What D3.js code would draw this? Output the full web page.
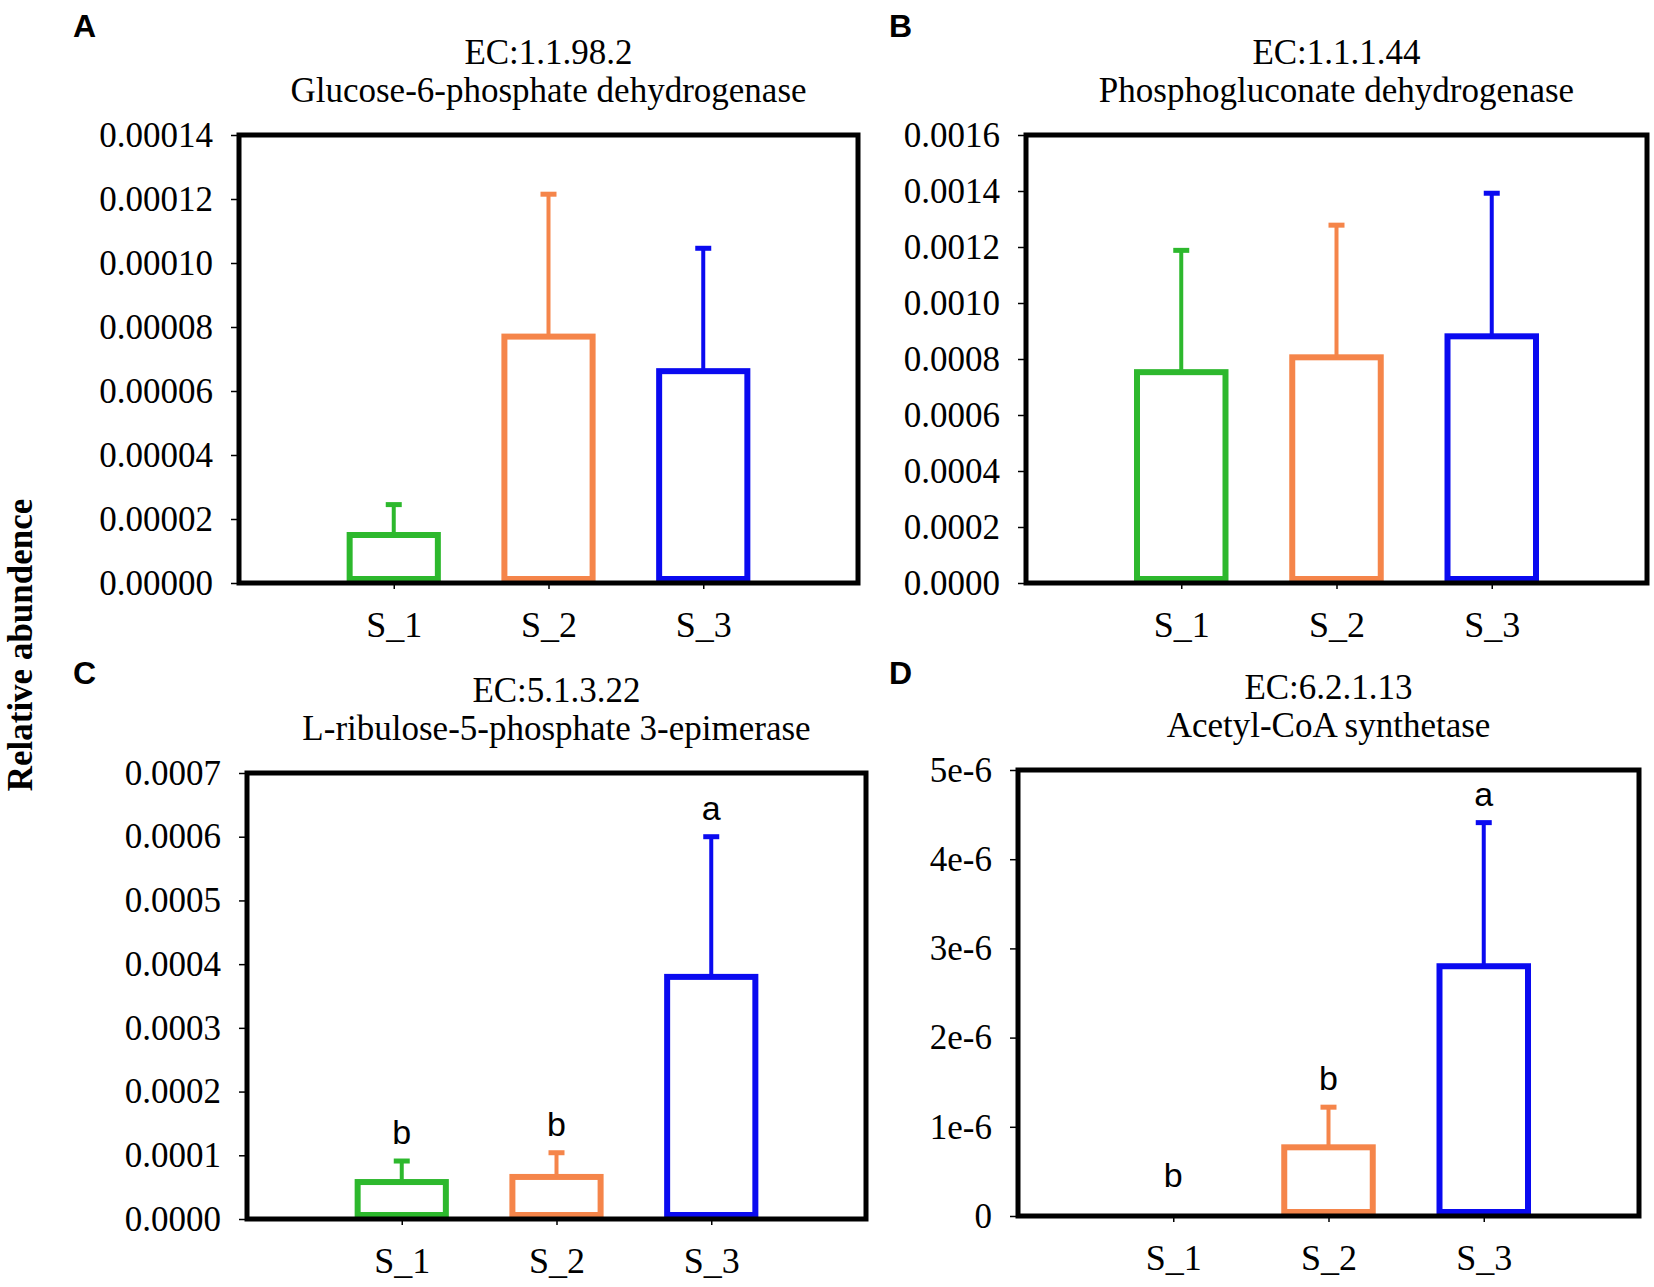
<!DOCTYPE html>
<html>
<head>
<meta charset="utf-8">
<script src="https://cdn.jsdelivr.net/npm/d3@7"></script>
<style>
  body { margin: 0; background: #fff; }
  svg text { font-family: "Liberation Serif", "Times New Roman", serif; fill: #000; }
  .panel-letter, .sig { font-family: "Liberation Sans", Arial, sans-serif !important; }
</style>
</head>
<body>
<svg id="chart" width="1654" height="1287"></svg>
<script>
// groups on the x axis
var samples = ['S_1', 'S_2', 'S_3'];
var barColors = ['#2db82d', '#f5854a', '#0a0af0'];

// panel A: EC:1.1.98.2
var meanA = [0.0000150, 0.0000770, 0.0000662];
var seA = [0.0000095, 0.0000445, 0.0000384];
var ticksA = [0, 0.00002, 0.00004, 0.00006, 0.00008, 0.00010, 0.00012, 0.00014];

// panel B: EC:1.1.1.44
var meanB = [0.000753, 0.000806, 0.000881];
var seB = [0.000435, 0.000472, 0.000511];
var ticksB = [0, 0.0002, 0.0004, 0.0006, 0.0008, 0.0010, 0.0012, 0.0014, 0.0016];

// panel C: EC:5.1.3.22
var meanC = [0.0000580, 0.0000660, 0.000380];
var seC = [0.0000330, 0.0000380, 0.000220];
var ticksC = [0, 0.0001, 0.0002, 0.0003, 0.0004, 0.0005, 0.0006, 0.0007];
var lettersC = ['b', 'b', 'a'];

// panel D: EC:6.2.1.13
var meanD = [0, 0.00000077, 0.0000028];
var seD = [0, 0.00000045, 0.00000161];
var ticksD = [0, 1e-6, 2e-6, 3e-6, 4e-6, 5e-6];
var tickLabelsD = ['0', '1e-6', '2e-6', '3e-6', '4e-6', '5e-6'];
var lettersD = ['b', 'b', 'a'];

var svg = d3.select('#chart');

var panels = [
  {letter: 'A', ec: 'EC:1.1.98.2', name: 'Glucose-6-phosphate dehydrogenase',
   mean: meanA, se: seA, ticks: ticksA, fmt: d3.format('.5f'),
   box: {x0: 239, x1: 858, y0: 135, y1: 583}, lx: 73, ly: 37},
  {letter: 'B', ec: 'EC:1.1.1.44', name: 'Phosphogluconate dehydrogenase',
   mean: meanB, se: seB, ticks: ticksB, fmt: d3.format('.4f'),
   box: {x0: 1026, x1: 1647, y0: 135, y1: 583}, lx: 889, ly: 37},
  {letter: 'C', ec: 'EC:5.1.3.22', name: 'L-ribulose-5-phosphate 3-epimerase',
   mean: meanC, se: seC, ticks: ticksC, fmt: d3.format('.4f'), letters: lettersC,
   box: {x0: 247, x1: 866, y0: 773, y1: 1219}, lx: 73, ly: 684},
  {letter: 'D', ec: 'EC:6.2.1.13', name: 'Acetyl-CoA synthetase',
   mean: meanD, se: seD, ticks: ticksD, fmt: function(d, i) { return tickLabelsD[i]; }, letters: lettersD,
   box: {x0: 1018, x1: 1639, y0: 770, y1: 1216}, lx: 889, ly: 684}
];

panels.forEach(drawPanel);

// shared y axis title
svg.append('text')
  .attr('transform', 'translate(32,645) rotate(-90)')
  .attr('text-anchor', 'middle')
  .style('font-size', '35px')
  .style('font-weight', 'bold')
  .text('Relative abundence');

function drawPanel(p) {
  var b = p.box;
  var g = svg.append('g');

  var x = d3.scalePoint()
    .domain(samples)
    .range([b.x0, b.x1])
    .padding(1);
  var y = d3.scaleLinear()
    .domain([0, p.ticks[p.ticks.length - 1]])
    .range([b.y1, b.y0]);
  var barW = x.step() * 0.57;

  // panel letter
  g.append('text')
    .attr('class', 'panel-letter')
    .attr('x', p.lx).attr('y', p.ly)
    .style('font-size', '32px')
    .style('font-weight', 'bold')
    .text(p.letter);

  // two-line title
  var cx = (b.x0 + b.x1) / 2;
  g.append('text')
    .attr('x', cx).attr('y', b.y0 - 71)
    .attr('text-anchor', 'middle')
    .style('font-size', '35px')
    .text(p.ec);
  g.append('text')
    .attr('x', cx).attr('y', b.y0 - 33)
    .attr('text-anchor', 'middle')
    .style('font-size', '35px')
    .text(p.name);

  // y axis ticks
  var yAxis = g.append('g')
    .attr('transform', 'translate(' + b.x0 + ',0)')
    .call(d3.axisLeft(y).tickValues(p.ticks).tickFormat(p.fmt).tickSize(8).tickPadding(18));
  yAxis.select('.domain').remove();
  yAxis.selectAll('line').attr('stroke', '#000').attr('stroke-width', 1.5);
  yAxis.selectAll('text')
    .style('font-size', '35px')
    .style('font-family', '"Liberation Serif", "Times New Roman", serif');

  // x axis ticks
  var xAxis = g.append('g')
    .attr('transform', 'translate(0,' + b.y1 + ')')
    .call(d3.axisBottom(x).tickSize(6).tickPadding(22));
  xAxis.select('.domain').remove();
  xAxis.selectAll('line').attr('stroke', '#000').attr('stroke-width', 1.5);
  xAxis.selectAll('text')
    .style('font-size', '36px')
    .style('font-family', '"Liberation Serif", "Times New Roman", serif');

  // bars (skip zero-height)
  var data = samples.map(function(s, i) {
    return {key: s, mean: p.mean[i], se: p.se[i], color: barColors[i], letter: p.letters ? p.letters[i] : null};
  });

  g.selectAll('rect.bar')
    .data(data.filter(function(d) { return d.mean > 0; }))
    .enter().append('rect')
    .attr('class', 'bar')
    .attr('x', function(d) { return x(d.key) - barW / 2; })
    .attr('y', function(d) { return y(d.mean); })
    .attr('width', barW)
    .attr('height', function(d) { return y(0) - 4 - y(d.mean); })
    .attr('fill', 'none')
    .attr('stroke', function(d) { return d.color; })
    .attr('stroke-width', 6);

  // error bars
  var err = g.selectAll('g.err')
    .data(data.filter(function(d) { return d.se > 0; }))
    .enter().append('g')
    .attr('class', 'err');
  err.append('line')
    .attr('x1', function(d) { return x(d.key); })
    .attr('x2', function(d) { return x(d.key); })
    .attr('y1', function(d) { return y(d.mean); })
    .attr('y2', function(d) { return y(d.mean + d.se); })
    .attr('stroke', function(d) { return d.color; })
    .attr('stroke-width', 4);
  err.append('line')
    .attr('x1', function(d) { return x(d.key) - 8; })
    .attr('x2', function(d) { return x(d.key) + 8; })
    .attr('y1', function(d) { return y(d.mean + d.se); })
    .attr('y2', function(d) { return y(d.mean + d.se); })
    .attr('stroke', function(d) { return d.color; })
    .attr('stroke-width', 5);

  // significance letters
  if (p.letters) {
    g.selectAll('text.sig')
      .data(data)
      .enter().append('text')
      .attr('class', 'sig')
      .attr('x', function(d) { return x(d.key); })
      .attr('y', function(d) { return Math.min(y(d.mean + d.se) - 17, y(0) - 29); })
      .attr('text-anchor', 'middle')
      .style('font-size', '34px')
      .text(function(d) { return d.letter; });
  }

  // frame
  g.append('rect')
    .attr('x', b.x0).attr('y', b.y0)
    .attr('width', b.x1 - b.x0).attr('height', b.y1 - b.y0)
    .attr('fill', 'none')
    .attr('stroke', '#000')
    .attr('stroke-width', 5);
}
</script>
</body>
</html>
